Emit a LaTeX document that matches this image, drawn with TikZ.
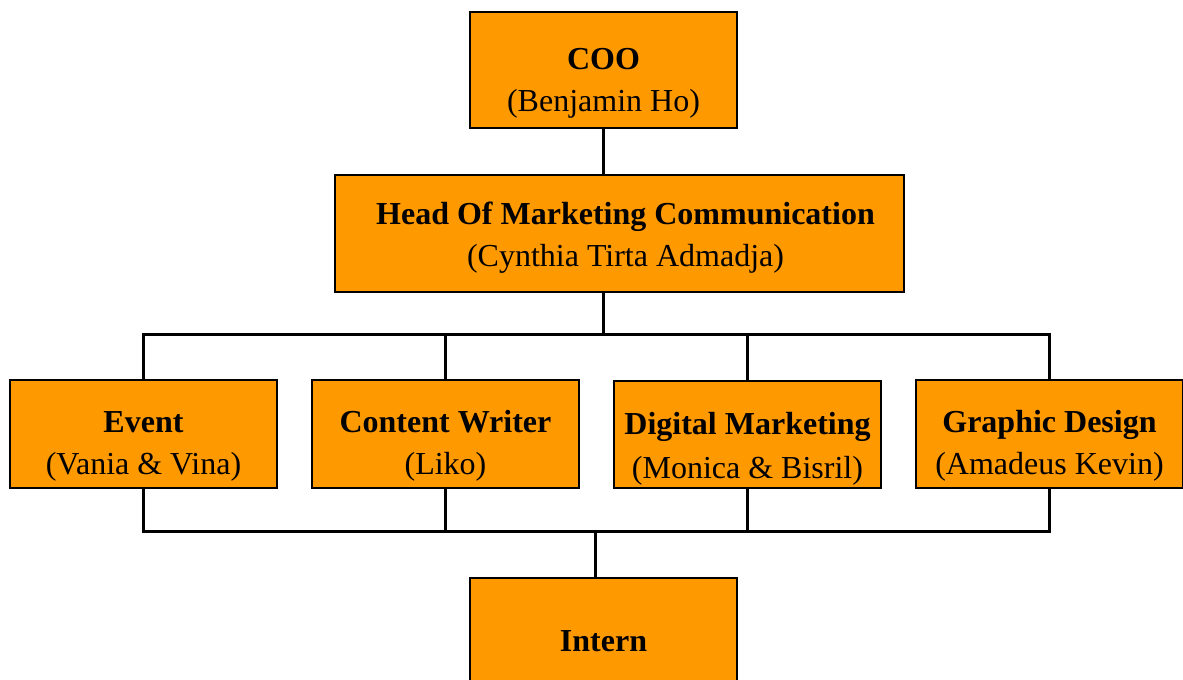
\documentclass[tikz,border=0pt]{standalone}
\usepackage{fontspec}
\setmainfont{Liberation Serif}
\definecolor{boxorange}{RGB}{255,153,0}
\newcommand\orgtext[3]{\hspace*{#2}\raisebox{-#1}[\height][\depth]{\begin{tabular}{@{}c@{}}#3\end{tabular}}}
\begin{document}
\begin{tikzpicture}[x=0.75pt,y=-0.75pt,
  box/.style={draw=black,line width=1.5pt,fill=boxorange,inner sep=0pt,
    font=\fontsize{24}{31.5}\selectfont},
  conn/.style={draw=black,line width=2.25pt}]
\useasboundingbox (0,0) rectangle (1183,680);
\node[box,minimum width=200.25pt,minimum height=87pt] (coo) at (603.5,70) {\orgtext{9pt}{0pt}{\textbf{COO}\\(Benjamin Ho)}};
\node[box,minimum width=426.75pt,minimum height=87.75pt] (head) at (619.5,233.5) {\orgtext{3pt}{9pt}{\textbf{Head Of Marketing Communication}\\(Cynthia Tirta Admadja)}};
\node[box,minimum width=200.25pt,minimum height=81pt] (event) at (143.5,434) {\orgtext{8pt}{0pt}{\textbf{Event}\\(Vania \& Vina)}};
\node[box,minimum width=200.25pt,minimum height=81pt] (cw) at (445.5,434) {\orgtext{8pt}{0pt}{\textbf{Content Writer}\\(Liko)}};
\node[box,minimum width=200.25pt,minimum height=80.25pt] (dm) at (747.5,434.5) {\orgtext{10pt}{0pt}{\textbf{Digital Marketing}\\[1.5pt](Monica \& Bisril)}};
\node[box,minimum width=200.25pt,minimum height=81pt] (gd) at (1049.5,434) {\orgtext{8pt}{0pt}{\textbf{Graphic Design}\\(Amadeus Kevin)}};
\node[box,minimum width=200.25pt,minimum height=99pt] (intern) at (603.5,644) {\orgtext{-1pt}{0pt}{\textbf{Intern}}};
\coordinate (bt) at (603,335);
\coordinate (bb) at (595,532);
\draw[conn] (coo.south) -- (coo.south |- head.north);
\draw[conn] (head.south -| bt) -- (bt);
\draw[conn] (event.north) -- (event.north |- bt) -- (gd.north |- bt) -- (gd.north);
\draw[conn] (cw.north |- bt) -- (cw.north);
\draw[conn] (dm.north |- bt) -- (dm.north);
\draw[conn] (event.south) -- (event.south |- bb) -- (gd.south |- bb) -- (gd.south);
\draw[conn] (cw.south) -- (cw.south |- bb);
\draw[conn] (dm.south) -- (dm.south |- bb);
\draw[conn] (bb) -- (intern.north -| bb);
\end{tikzpicture}
\end{document}
